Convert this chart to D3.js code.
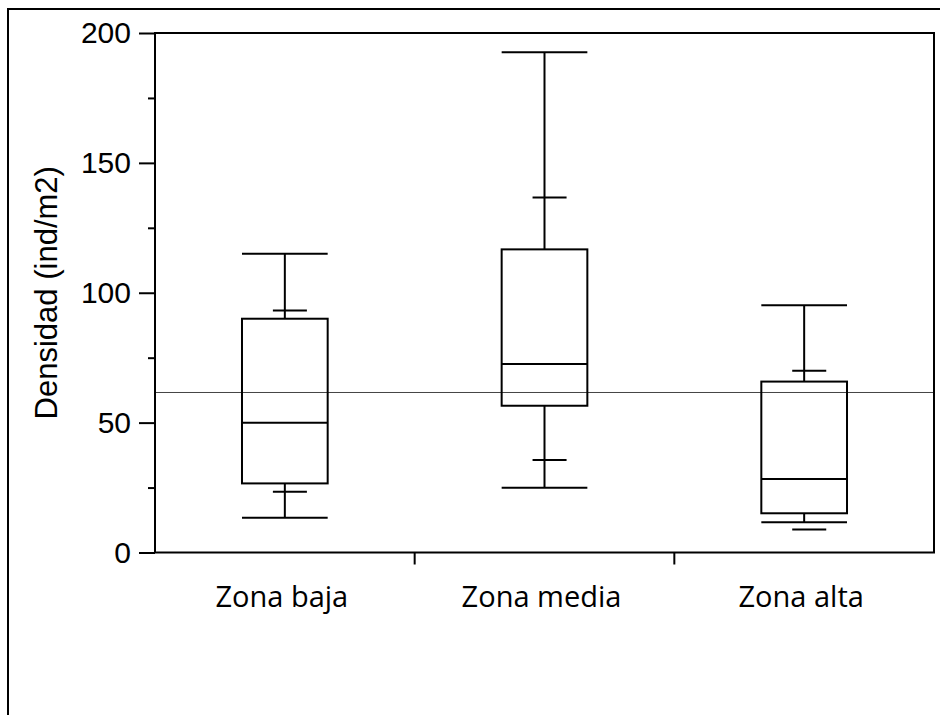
<!DOCTYPE html>
<html>
<head>
<meta charset="utf-8">
<script src="https://cdn.jsdelivr.net/npm/d3@7"></script>
<style>
  html, body { margin: 0; padding: 0; background: #fff; }
  svg { display: block; }
</style>
</head>
<body>
<svg id="chart" width="940" height="715"></svg>
<script>
const categories = ["Zona baja", "Zona media", "Zona alta"];
const maxVals    = [115, 192.6, 95.2];
const upperInner = [93.2, 136.7, 70.0];
const q3Vals     = [90.0, 116.7, 65.8];
const medianVals = [50.0, 72.6, 28.3];
const q1Vals     = [26.6, 56.5, 15.1];
const lowerInner = [23.4, 35.6, 8.9];
const minVals    = [13.4, 24.9, 11.6];
const refValue   = 61.6;
const yTicks     = [0, 50, 100, 150, 200];
const yMinorTicks = [25, 75, 125, 175];
const yTitle     = "Densidad (ind/m2)";

(function () {
const svg = d3.select("#chart");
const pLeft = 155, pRight = 934, pTop = 33, pBottom = 552.5;

// outer frame
svg.append("rect")
  .attr("x", 8).attr("y", 9).attr("width", 960).attr("height", 740)
  .attr("fill", "none").attr("stroke", "#000").attr("stroke-width", 2);

const x = d3.scaleBand().domain(categories).range([pLeft, pRight]).paddingInner(0).paddingOuter(0);
const y = d3.scaleLinear().domain([0, 200]).range([pBottom, pTop]);

// reference line
svg.append("line")
  .attr("x1", pLeft).attr("x2", pRight)
  .attr("y1", y(refValue)).attr("y2", y(refValue))
  .attr("stroke", "#444").attr("stroke-width", 1);

// y axis major
const yAxis = d3.axisLeft(y).tickValues(yTicks).tickSize(16).tickPadding(8).tickFormat(d3.format("d"));
const gy = svg.append("g").attr("transform", `translate(${pLeft},0)`).call(yAxis);
gy.select(".domain").remove();
gy.selectAll(".tick line").attr("stroke", "#000").attr("stroke-width", 2);
gy.selectAll(".tick text")
  .attr("font-family", "'Liberation Sans', Arial, sans-serif")
  .attr("font-size", 30).attr("fill", "#000");

// y axis minor
const yAxisMinor = d3.axisLeft(y).tickValues(yMinorTicks).tickSize(7).tickFormat("");
const gym = svg.append("g").attr("transform", `translate(${pLeft},0)`).call(yAxisMinor);
gym.select(".domain").remove();
gym.selectAll(".tick line").attr("stroke", "#000").attr("stroke-width", 2);

// x axis: ticks at band boundaries
const boundaries = categories.slice(1).map(c => x(c));
svg.append("g").selectAll("line").data(boundaries).join("line")
  .attr("x1", d => d).attr("x2", d => d)
  .attr("y1", pBottom).attr("y2", pBottom + 12)
  .attr("stroke", "#000").attr("stroke-width", 2);

// x labels
svg.append("g").selectAll("text").data(categories).join("text")
  .attr("x", d => x(d) + x.bandwidth() / 2 - 3)
  .attr("y", 607)
  .attr("text-anchor", "middle")
  .attr("font-family", "'Open Sans', 'Noto Sans', sans-serif")
  .attr("font-size", 29).attr("fill", "#000")
  .text(d => d);

// y title
svg.append("text")
  .attr("transform", `translate(57,${(pTop + pBottom) / 2}) rotate(-90)`)
  .attr("text-anchor", "middle")
  .attr("font-family", "'Liberation Sans', Arial, sans-serif")
  .attr("font-size", 31).attr("fill", "#000")
  .text(yTitle);

// boxes
const bw = x.bandwidth();
const half = bw * 0.165;
const innerL = bw * 0.046, innerR = bw * 0.085;
const g = svg.append("g").attr("stroke", "#000").attr("stroke-width", 2).attr("fill", "none");
categories.forEach((c, i) => {
  const cx = x(c) + bw / 2;
  g.append("line").attr("x1", cx).attr("x2", cx).attr("y1", y(q3Vals[i])).attr("y2", y(maxVals[i]));
  g.append("line").attr("x1", cx).attr("x2", cx).attr("y1", y(q1Vals[i])).attr("y2", y(minVals[i]));
  g.append("line").attr("x1", cx - half).attr("x2", cx + half).attr("y1", y(maxVals[i])).attr("y2", y(maxVals[i]));
  g.append("line").attr("x1", cx - half).attr("x2", cx + half).attr("y1", y(minVals[i])).attr("y2", y(minVals[i]));
  g.append("line").attr("x1", cx - innerL).attr("x2", cx + innerR).attr("y1", y(upperInner[i])).attr("y2", y(upperInner[i]));
  g.append("line").attr("x1", cx - innerL).attr("x2", cx + innerR).attr("y1", y(lowerInner[i])).attr("y2", y(lowerInner[i]));
  g.append("rect").attr("x", cx - half).attr("width", 2 * half)
    .attr("y", y(q3Vals[i])).attr("height", y(q1Vals[i]) - y(q3Vals[i]));
  g.append("line").attr("x1", cx - half).attr("x2", cx + half).attr("y1", y(medianVals[i])).attr("y2", y(medianVals[i]));
});

// plot border
svg.append("rect")
  .attr("x", pLeft).attr("y", pTop).attr("width", pRight - pLeft).attr("height", pBottom - pTop)
  .attr("fill", "none").attr("stroke", "#000").attr("stroke-width", 2);
})();
</script>
</body>
</html>
